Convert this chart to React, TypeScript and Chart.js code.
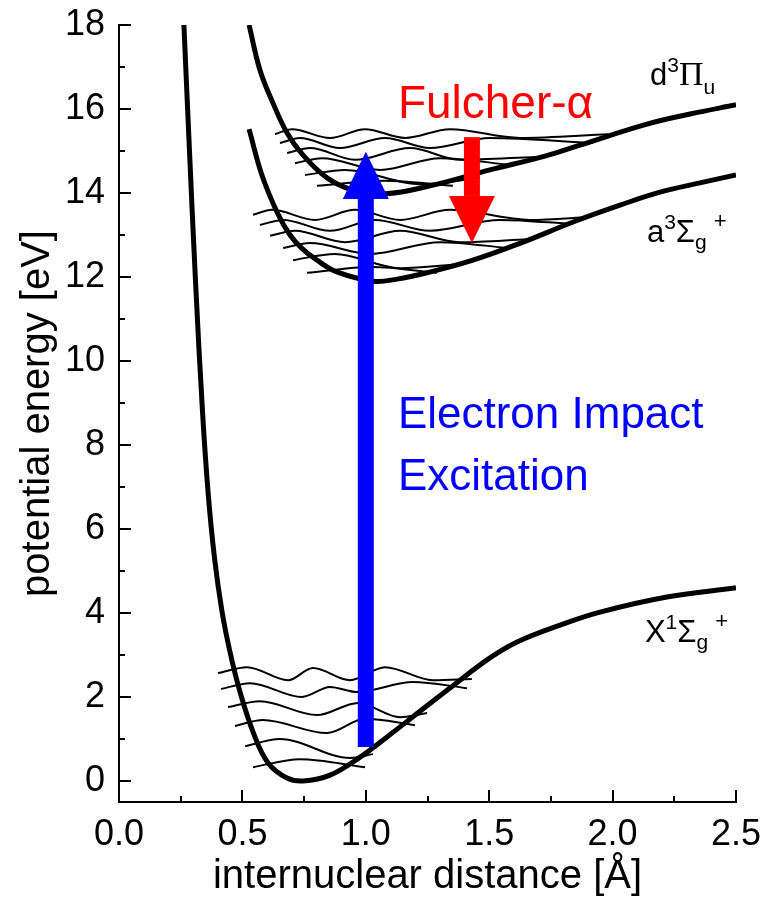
import React, { useEffect, useRef } from 'react';
import { Chart, registerables } from 'chart.js';

Chart.register(...registerables);

const FONT = "'Liberation Sans', Arial, Helvetica, sans-serif";
const SERIF = "'Liberation Serif', 'Times New Roman', serif";

// Axis ticks
const xTicks = [0, 0.5, 1.0, 1.5, 2.0, 2.5];
const xMinorTicks = [0.25, 0.75, 1.25, 1.75, 2.25];
const yTicks = [0, 2, 4, 6, 8, 10, 12, 14, 16, 18];
const yMinorTicks = [1, 3, 5, 7, 9, 11, 13, 15, 17];

// Potential curves: internuclear distance R [Å], energy E [eV]
const groundR = [0.263, 0.286, 0.310, 0.338, 0.361, 0.387, 0.417, 0.448, 0.488, 0.545, 0.604, 0.681, 0.746, 0.855, 0.977, 1.086, 1.248, 1.353, 1.503, 1.613, 1.787, 1.949, 2.220, 2.500];
const groundE = [18.0, 14.95, 11.9, 8.83, 6.87, 5.31, 4.05, 3.12, 2.17, 1.14, 0.43, 0.07, 0.0, 0.14, 0.57, 1.05, 1.79, 2.27, 2.93, 3.31, 3.71, 4.02, 4.38, 4.60];

const aStateR = [0.527, 0.579, 0.644, 0.693, 0.741, 0.802, 0.883, 1.029, 1.126, 1.248, 1.434, 1.637, 1.840, 2.030, 2.192, 2.354, 2.500];
const aStateE = [15.52, 14.43, 13.5, 13.0, 12.68, 12.40, 12.12, 11.9, 11.95, 12.1, 12.40, 12.83, 13.31, 13.71, 14.02, 14.24, 14.43];

const dStateR = [0.527, 0.571, 0.624, 0.681, 0.746, 0.843, 0.948, 1.078, 1.260, 1.503, 1.726, 1.868, 2.139, 2.314, 2.500];
const dStateE = [18.0, 16.93, 16.14, 15.43, 14.9, 14.36, 14.07, 13.98, 14.17, 14.55, 14.88, 15.14, 15.64, 15.88, 16.10];

// Vibrational wavefunctions [R, E] (extrema and end points)
const groundLevels = [
  [[0.543, 0.33], [0.733, 0.52], [0.997, 0.33]],
  [[0.511, 0.83], [0.652, 1.0], [0.936, 0.55], [1.029, 0.64]],
  [[0.470, 1.31], [0.583, 1.45], [0.843, 1.14], [0.997, 1.48], [1.199, 1.33]],
  [[0.442, 1.76], [0.571, 1.90], [0.802, 1.57], [0.968, 1.86], [1.139, 1.52], [1.248, 1.62]],
  [[0.413, 2.19], [0.531, 2.33], [0.741, 2.0], [0.855, 2.24], [0.964, 2.12], [1.191, 2.36], [1.410, 2.21]],
  [[0.401, 2.57], [0.519, 2.71], [0.685, 2.40], [0.786, 2.69], [0.936, 2.40], [1.078, 2.71], [1.272, 2.40], [1.430, 2.43]],
];

const aLevels = [
  [[0.762, 12.10], [1.025, 12.24], [1.288, 12.10]],
  [[0.705, 12.40], [0.875, 12.55], [1.139, 12.21], [1.382, 12.31]],
  [[0.665, 12.69], [0.774, 12.81], [1.017, 12.55], [1.301, 12.83], [1.576, 12.69]],
  [[0.612, 12.98], [0.713, 13.10], [0.916, 12.83], [1.139, 13.10], [1.382, 12.83], [1.657, 12.90]],
  [[0.571, 13.24], [0.665, 13.36], [0.855, 13.10], [1.037, 13.36], [1.260, 13.10], [1.544, 13.36], [1.840, 13.26]],
  [[0.543, 13.48], [0.620, 13.60], [0.794, 13.36], [0.956, 13.60], [1.139, 13.36], [1.341, 13.60], [1.665, 13.36], [1.908, 13.43]],
];

const dLevels = [
  [[0.802, 14.17], [1.078, 14.29], [1.353, 14.17]],
  [[0.754, 14.43], [0.916, 14.55], [1.220, 14.21], [1.463, 14.36]],
  [[0.713, 14.71], [0.823, 14.83], [1.058, 14.55], [1.301, 14.83], [1.584, 14.67]],
  [[0.681, 14.95], [0.774, 15.07], [0.956, 14.79], [1.179, 15.07], [1.382, 14.79], [1.686, 14.86]],
  [[0.652, 15.19], [0.733, 15.31], [0.895, 15.07], [1.078, 15.31], [1.260, 15.07], [1.503, 15.31], [1.921, 15.19]],
  [[0.632, 15.40], [0.701, 15.52], [0.855, 15.31], [0.997, 15.52], [1.159, 15.31], [1.341, 15.52], [1.625, 15.31], [1.981, 15.40]],
];

// Transition arrows: R position, start energy, head base energy, tip energy
const excitationArrow = [1.0, 0.81, 13.86, 14.98];
const fulcherArrow = [1.43, 15.33, 13.93, 12.81];

type Part = { t: string; size: number; dy: number; fam?: string; gap?: number };

function drawParts(ctx: CanvasRenderingContext2D, x: number, y: number, parts: Part[]) {
  let cx = x;
  for (const p of parts) {
    ctx.font = `${p.size}px ${p.fam || FONT}`;
    ctx.fillText(p.t, cx, y + p.dy);
    cx += ctx.measureText(p.t).width + (p.gap || 0);
  }
}

const annotPlugin = {
  id: 'annot',
  afterDatasetsDraw(chart: any) {
    const { ctx, scales } = chart;
    const xs = scales.x, ys = scales.y;
    const drawArrow = (a: number[], color: string) => {
      const cx = xs.getPixelForValue(a[0]);
      const y0 = ys.getPixelForValue(a[1]);
      const yb = ys.getPixelForValue(a[2]);
      const yt = ys.getPixelForValue(a[3]);
      ctx.save();
      ctx.fillStyle = color;
      ctx.fillRect(cx - 8, Math.min(y0, yb), 16, Math.abs(yb - y0));
      ctx.beginPath();
      ctx.moveTo(cx - 23, yb);
      ctx.lineTo(cx + 23, yb);
      ctx.lineTo(cx, yt);
      ctx.closePath();
      ctx.fill();
      ctx.restore();
    };
    drawArrow(excitationArrow, '#0000ff');
    drawArrow(fulcherArrow, '#ff0000');
  },
  afterDraw(chart: any) {
    const { ctx, scales, chartArea } = chart;
    const xs = scales.x, ys = scales.y;
    ctx.save();
    ctx.strokeStyle = '#000';
    ctx.lineWidth = 2;
    ctx.beginPath();
    for (const v of xTicks) {
      const p = Math.round(xs.getPixelForValue(v));
      ctx.moveTo(p, chartArea.bottom);
      ctx.lineTo(p, chartArea.bottom - 12);
    }
    for (const v of xMinorTicks) {
      const p = Math.round(xs.getPixelForValue(v));
      ctx.moveTo(p, chartArea.bottom);
      ctx.lineTo(p, chartArea.bottom - 6);
    }
    for (const v of yTicks) {
      const p = Math.round(ys.getPixelForValue(v));
      ctx.moveTo(chartArea.left, p);
      ctx.lineTo(chartArea.left + 12, p);
    }
    for (const v of yMinorTicks) {
      const p = Math.round(ys.getPixelForValue(v));
      ctx.moveTo(chartArea.left, p);
      ctx.lineTo(chartArea.left + 6, p);
    }
    ctx.stroke();

    ctx.textBaseline = 'alphabetic';
    ctx.textAlign = 'left';
    ctx.fillStyle = '#ff0000';
    ctx.font = `46px ${FONT}`;
    ctx.fillText('Fulcher-α', xs.getPixelForValue(1.13), ys.getPixelForValue(15.79));
    ctx.fillStyle = '#0000ff';
    ctx.font = `44px ${FONT}`;
    ctx.fillText('Electron Impact', xs.getPixelForValue(1.13), ys.getPixelForValue(8.40));
    ctx.fillText('Excitation', xs.getPixelForValue(1.13), ys.getPixelForValue(6.93));

    ctx.fillStyle = '#000';
    drawParts(ctx, xs.getPixelForValue(2.152), ys.getPixelForValue(16.57), [
      { t: 'd', size: 31, dy: 0 },
      { t: '3', size: 21, dy: -13 },
      { t: 'Π', size: 34, dy: 0, fam: SERIF },
      { t: 'u', size: 21, dy: 9 },
    ]);
    drawParts(ctx, xs.getPixelForValue(2.139), ys.getPixelForValue(12.83), [
      { t: 'a', size: 31, dy: 0 },
      { t: '3', size: 21, dy: -13 },
      { t: 'Σ', size: 31, dy: 0 },
      { t: 'g', size: 21, dy: 7, gap: 7 },
      { t: '+', size: 22, dy: -14 },
    ]);
    drawParts(ctx, xs.getPixelForValue(2.131), ys.getPixelForValue(3.31), [
      { t: 'X', size: 31, dy: 0 },
      { t: '1', size: 21, dy: -13 },
      { t: 'Σ', size: 31, dy: 0 },
      { t: 'g', size: 21, dy: 7, gap: 7 },
      { t: '+', size: 22, dy: -14 },
    ]);
    ctx.restore();
  },
};

const noPad = (s: any) => {
  s.paddingTop = 0;
  s.paddingBottom = 0;
  s.paddingLeft = 0;
  s.paddingRight = 0;
};

export default function App() {
  const ref = useRef<HTMLCanvasElement>(null);
  useEffect(() => {
    const canvas = ref.current!;
    const datasets: any[] = [];
    const pots = [
      [groundR, groundE],
      [aStateR, aStateE],
      [dStateR, dStateE],
    ];
    for (const [rs, es] of pots) {
      datasets.push({
        data: rs.map((r, i) => ({ x: r, y: es[i] })),
        borderColor: '#000',
        borderWidth: 5,
        pointRadius: 0,
        showLine: true,
        fill: false,
        tension: 0.4,
      });
    }
    for (const lv of [...groundLevels, ...aLevels, ...dLevels]) {
      datasets.push({
        data: lv.map(([x, y]) => ({ x, y })),
        borderColor: '#000',
        borderWidth: 2,
        pointRadius: 0,
        showLine: true,
        fill: false,
        cubicInterpolationMode: 'monotone',
      });
    }
    const chart = new Chart(canvas, {
      type: 'scatter',
      data: { datasets },
      options: {
        animation: false,
        responsive: false,
        devicePixelRatio: 1,
        layout: { autoPadding: false, padding: { top: 25, right: 28, bottom: 0, left: 0 } },
        plugins: { legend: { display: false }, tooltip: { enabled: false } },
        scales: {
          x: {
            type: 'linear',
            min: 0,
            max: 2.5,
            afterBuildTicks: (s: any) => {
              s.ticks = xTicks.map((value) => ({ value }));
            },
            afterFit: (s: any) => {
              s.height = 96;
              noPad(s);
            },
            grid: { display: false, drawTicks: false },
            border: { display: true, color: '#000', width: 2 },
            ticks: {
              color: '#000',
              font: { family: FONT, size: 36 },
              padding: 11,
              maxRotation: 0,
              autoSkip: false,
              callback: (v: any) => Number(v).toFixed(1),
            },
            title: {
              display: true,
              text: 'internuclear distance [Å]',
              color: '#000',
              font: { family: FONT, size: 40, lineHeight: 1 },
              padding: { top: 0, bottom: 1 },
            },
          },
          y: {
            type: 'linear',
            min: -0.5,
            max: 18,
            afterBuildTicks: (s: any) => {
              s.ticks = yTicks.map((value) => ({ value }));
            },
            afterFit: (s: any) => {
              s.width = 119;
              noPad(s);
            },
            grid: { display: false, drawTicks: false },
            border: { display: true, color: '#000', width: 2 },
            ticks: {
              color: '#000',
              font: { family: FONT, size: 36 },
              padding: 14,
              autoSkip: false,
              callback: (v: any) => String(v),
            },
            title: {
              display: true,
              text: 'potential energy [eV]',
              color: '#000',
              font: { family: FONT, size: 40, lineHeight: 1 },
              padding: { top: 18, bottom: 0 },
            },
          },
        },
      },
      plugins: [annotPlugin],
    });
    return () => chart.destroy();
  }, []);
  return (
    <canvas
      ref={ref}
      width={764}
      height={898}
      style={{ position: 'absolute', left: 0, top: 0, display: 'block' }}
    />
  );
}
